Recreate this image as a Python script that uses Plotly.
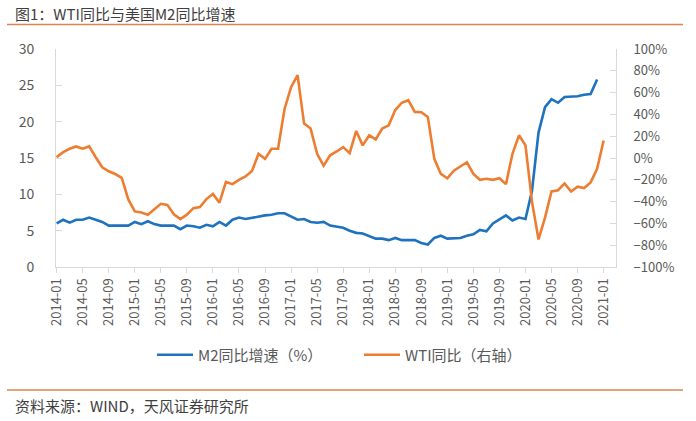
import plotly.graph_objects as go

# Months 2014-01 .. 2021-02
months = [f"{2014 + i // 12}-{i % 12 + 1:02d}" for i in range(86)]

# US M2 YoY growth (%), 2014-01 .. 2021-01
m2_yoy = [
    6.0, 6.5, 6.1, 6.5, 6.5, 6.8, 6.5, 6.2, 5.7, 5.7, 5.7, 5.7,
    6.2, 5.9, 6.3, 5.9, 5.7, 5.7, 5.7, 5.2, 5.7, 5.6, 5.4, 5.8,
    5.6, 6.2, 5.7, 6.5, 6.8, 6.6, 6.8, 7.0, 7.1, 7.2, 7.4, 7.4,
    6.9, 6.5, 6.6, 6.2, 6.1, 6.2, 5.7, 5.6, 5.4, 5.0, 4.7, 4.6,
    4.3, 3.9, 3.9, 3.7, 4.0, 3.7, 3.7, 3.7, 3.3, 3.1, 4.0, 4.3,
    3.9, 3.9, 4.0, 4.3, 4.5, 5.1, 4.9, 6.0, 6.6, 7.1, 6.4, 6.8,
    6.6, 10.5, 18.5, 22.0, 23.1, 22.6, 23.4, 23.4, 23.5, 23.7, 23.8, 25.8,
]

# WTI YoY change (%), 2014-01 .. 2021-02
wti_yoy = [
    0.7, 5.4, 8.5, 10.6, 8.5, 10.6, 0.7, -8.5, -12.2, -14.7, -18.3, -38.0,
    -49.0, -50.0, -52.0, -47.0, -42.0, -43.0, -51.6, -56.0, -52.0, -46.0, -45.0, -37.7,
    -33.0, -41.0, -22.0, -24.0, -20.0, -17.0, -12.0, 3.9, -0.8, 8.5, 8.5, 45.0,
    65.0, 76.0, 31.6, 27.0, 3.9, -7.0, 2.5, 6.0, 10.0, 4.5, 24.8, 11.6,
    20.8, 17.0, 27.0, 30.0, 44.0, 50.7, 53.0, 42.3, 42.0, 37.7, -0.8, -14.6,
    -18.6, -11.6, -7.9, -3.9, -14.6, -20.0, -19.0, -20.0, -18.6, -24.0, 3.9, 20.8,
    11.6, -40.0, -74.7, -54.7, -30.7, -29.6, -23.3, -30.7, -26.3, -27.5, -22.4, -10.0,
    16.0,
]

tick_labels = months[::4]

BLUE = "#1F72BE"
ORANGE = "#ED7D31"
AXIS = "#D9D9D9"
TXT = "#595959"
DECO = "#DA8550"

W, H = 696, 421
L, R, T, B = 56, 616, 49, 267


def px(x):
    return (x - L) / (R - L)


def py(y):
    return (B - y) / (B - T)


fig = go.Figure()
fig.add_trace(go.Scatter(
    x=list(range(len(m2_yoy))), y=m2_yoy, mode="lines",
    name="M2同比增速（%）", line=dict(color=BLUE, width=2.6),
))
fig.add_trace(go.Scatter(
    x=list(range(len(wti_yoy))), y=wti_yoy, mode="lines",
    name="WTI同比（右轴）", line=dict(color=ORANGE, width=2.6), yaxis="y2",
))

font_family = "Noto Sans CJK SC, Noto Sans, sans-serif"

fig.update_layout(
    width=W, height=H,
    margin=dict(l=L, r=W - R, t=T, b=H - B, pad=0),
    paper_bgcolor="white", plot_bgcolor="white",
    font=dict(family=font_family, color=TXT, size=12),
    showlegend=True,
    legend=dict(
        orientation="h", x=px(152), xanchor="left", y=py(355), yanchor="middle",
        font=dict(size=15, color=TXT), itemwidth=36, tracegroupgap=0,
        entrywidth=156, entrywidthmode="pixels",
        bgcolor="rgba(0,0,0,0)",
    ),
    xaxis=dict(
        range=[-0.1, 85.9],
        tickmode="array",
        tickvals=list(range(0, 86, 4)),
        ticktext=tick_labels,
        tickangle=-90,
        ticks="outside", ticklen=5, tickcolor=AXIS,
        showline=True, linecolor=AXIS, linewidth=1,
        showgrid=False, zeroline=False,
        tickfont=dict(size=13, color=TXT),
    ),
    yaxis=dict(
        range=[0, 30], dtick=5, tick0=0,
        ticks="inside", ticklen=6, tickcolor=AXIS,
        showline=True, linecolor=AXIS, linewidth=1,
        showgrid=False, zeroline=False,
        tickfont=dict(size=14, color=TXT),
        ticklabelstandoff=18,
    ),
    yaxis2=dict(
        range=[-100, 100], dtick=20, tick0=0, overlaying="y", side="right",
        ticksuffix="%",
        ticks="inside", ticklen=6, tickcolor=AXIS,
        showline=True, linecolor=AXIS, linewidth=1,
        showgrid=False, zeroline=False,
        tickfont=dict(size=13, color=TXT),
        ticklabelstandoff=14,
    ),
)

# decorative header / footer rules
for yline in (24.5, 390):
    fig.add_shape(type="line", xref="paper", yref="paper",
                  x0=px(7), x1=px(683), y0=py(yline), y1=py(yline),
                  line=dict(color=DECO, width=1.5))

fig.add_annotation(text="图1：WTI同比与美国M2同比增速", xref="paper", yref="paper",
                   x=px(13), y=py(13), xanchor="left", yanchor="middle",
                   showarrow=False, font=dict(size=15, color="#404040", family=font_family))
fig.add_annotation(text="资料来源：WIND，天风证券研究所", xref="paper", yref="paper",
                   x=px(13), y=py(405), xanchor="left", yanchor="middle",
                   showarrow=False, font=dict(size=15, color="#404040", family=font_family))

fig.write_html("out.html")
